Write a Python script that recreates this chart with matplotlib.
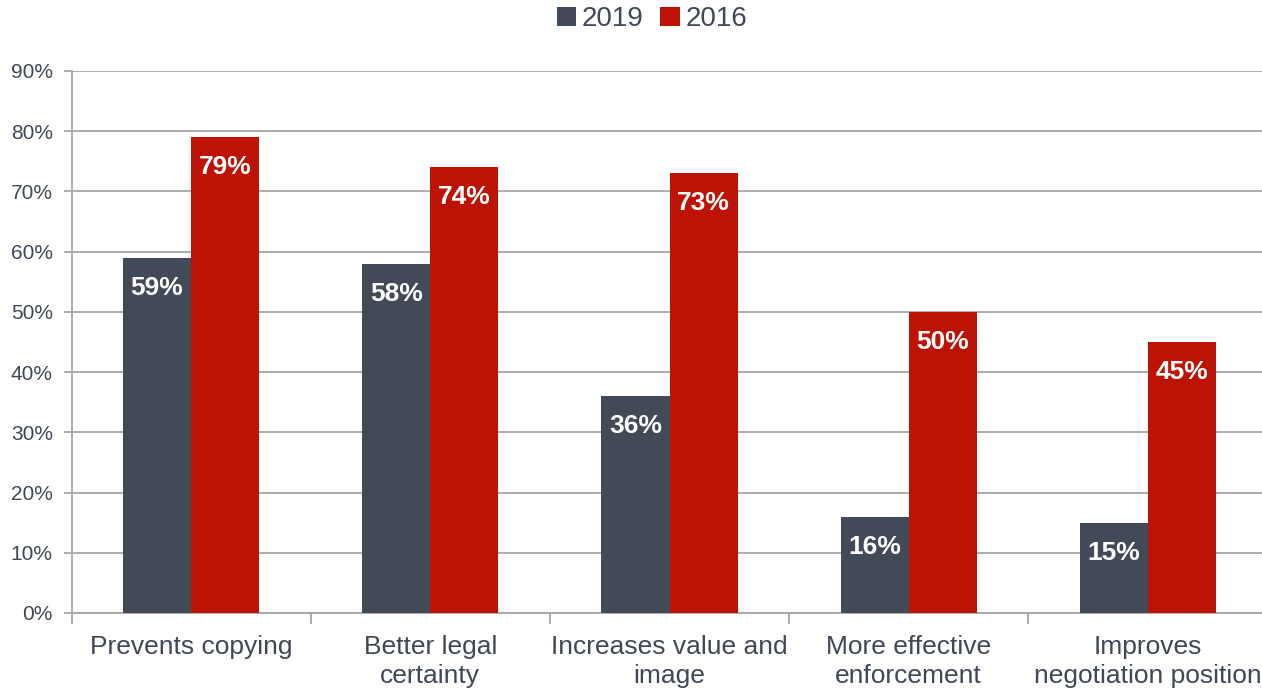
import matplotlib
matplotlib.use("Agg")
import matplotlib.pyplot as plt
import numpy as np
from matplotlib.ticker import FixedLocator, PercentFormatter

categories = ["Prevents copying", "Better legal\ncertainty", "Increases value and\nimage",
              "More effective\nenforcement", "Improves\nnegotiation position"]
series_names = ["2019", "2016"]
values_2019 = [59, 58, 36, 16, 15]
values_2016 = [79, 74, 73, 50, 45]
yticks = [0, 10, 20, 30, 40, 50, 60, 70, 80, 90]

plt.rcParams['font.family'] = ['Liberation Sans', 'DejaVu Sans']
text_color = "#404756"
dark = "#424957"
red = "#BD1206"
grid_c = "#A6A6A6"

W, H = 1262, 690
fig = plt.figure(figsize=(W / 100, H / 100), dpi=100)
left_px, right_px, top_px, bot_px = 71.5, 1267.5, 71, 613
ax = fig.add_axes([left_px / W, 1 - bot_px / H, (right_px - left_px) / W, (bot_px - top_px) / H])

x = np.arange(len(categories))
w = 0.285
b1 = ax.bar(x - w / 2, values_2019, w, color=dark, label=series_names[0], zorder=3)
b2 = ax.bar(x + w / 2, values_2016, w, color=red, label=series_names[1], zorder=3)

for bars in (b1, b2):
    for r in bars:
        h = r.get_height()
        ax.annotate(f"{h:.0f}%", (r.get_x() + r.get_width() / 2, h), xytext=(0, -21.5),
                    textcoords="offset points", ha="center", va="center",
                    color="white", fontsize=19, fontweight="bold", zorder=4)

ax.set_xlim(-0.5, len(categories) - 0.5)
ax.set_ylim(0, 90)
ax.yaxis.set_major_locator(FixedLocator(yticks))
ax.yaxis.set_major_formatter(PercentFormatter(decimals=0))
ax.grid(axis="y", color=grid_c, linewidth=1.3, zorder=0)
ax.set_axisbelow(True)

ax.set_xticks(x)
ax.set_xticklabels(categories, fontsize=19, color=text_color, linespacing=1.28)
ax.tick_params(axis="x", which="major", length=0, pad=15.5)
ax.set_xticks(np.arange(len(categories) + 1) - 0.5, minor=True)
ax.tick_params(axis="x", which="minor", length=8, width=1.3, color=grid_c, direction="out")
ax.tick_params(axis="y", length=6, width=1.3, color=grid_c, labelsize=15, labelcolor=text_color, pad=7.5)

for s in ["top", "right"]:
    ax.spines[s].set_visible(False)
for s in ["left", "bottom"]:
    ax.spines[s].set_color(grid_c)
    ax.spines[s].set_linewidth(1.3)

leg = fig.legend(handles=[b1, b2], labels=series_names, loc="center", bbox_to_anchor=(0.5165, 0.972),
                 ncol=2, frameon=False, fontsize=20, handlelength=0.7, handleheight=0.7,
                 handletextpad=0.2, columnspacing=0.6)
for t in leg.get_texts():
    t.set_color(text_color)

fig.savefig("out.png", dpi=100)
